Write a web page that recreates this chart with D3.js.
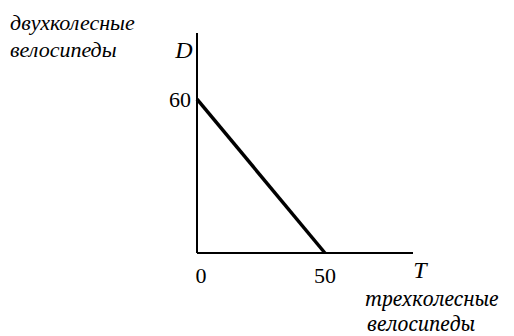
<!DOCTYPE html>
<html lang="ru">
<head>
<meta charset="utf-8">
<script src="https://cdn.jsdelivr.net/npm/d3@7"></script>
<style>
  body { margin: 0; background: #fff; }
</style>
</head>
<body>
<svg id="chart"></svg>
<script>
// budget line: two-wheel (D) vs three-wheel (T) bicycles
const lineT = [0, 50];
const lineD = [60, 0];
const xTicks = [0, 50];
const yTicks = [60];
const yLabel = ["двухколесные", "велосипеды"];
const xLabel = ["трехколесные", "велосипеды"];

let svgWidth = 514, svgHeight = 336;
let ox = 197, oy = 253;
let serif = "'Liberation Serif', 'Noto Serif', serif";

let x = d3.scaleLinear().domain([0, 84.4]).range([ox, 413]),
    y = d3.scaleLinear().domain([0, 85.8]).range([oy, 33]);

let svg = d3.select("#chart").attr("width", svgWidth).attr("height", svgHeight);

// axes as plain lines
svg.append("line")
    .attr("x1", x(0)).attr("y1", y(0))
    .attr("x2", x(0)).attr("y2", y.range()[1])
    .attr("stroke", "#000").attr("stroke-width", 2);
svg.append("line")
    .attr("x1", x(0)).attr("y1", y(0))
    .attr("x2", x.range()[1]).attr("y2", y(0))
    .attr("stroke", "#000").attr("stroke-width", 2);

// the budget line
let pts = lineT.map((t, i) => [t, lineD[i]]);
svg.append("path")
    .datum(pts)
    .attr("d", d3.line().x(d => x(d[0])).y(d => y(d[1])))
    .attr("fill", "none")
    .attr("stroke", "#000")
    .attr("stroke-width", 3.5);

// tick labels
svg.selectAll(".xt")
    .data(xTicks)
    .enter().append("text")
    .attr("x", d => x(d) + (d === 0 ? 4 : 0))
    .attr("y", 283)
    .attr("text-anchor", "middle")
    .attr("font-family", serif)
    .attr("font-size", "22px")
    .text(d => d);

svg.selectAll(".yt")
    .data(yTicks)
    .enter().append("text")
    .attr("x", x(0) - 6)
    .attr("y", d => y(d) + 8)
    .attr("text-anchor", "end")
    .attr("font-family", serif)
    .attr("font-size", "22px")
    .text(d => d);

// axis letters
svg.append("text").attr("x", 184).attr("y", 58)
    .attr("text-anchor", "middle").attr("font-family", serif)
    .attr("font-size", "24px").attr("font-style", "italic")
    .text("D");
svg.append("text").attr("x", 420).attr("y", 278)
    .attr("text-anchor", "middle").attr("font-family", serif)
    .attr("font-size", "24px").attr("font-style", "italic")
    .text("T");

// axis titles
svg.selectAll(".yl")
    .data(yLabel)
    .enter().append("text")
    .attr("x", 10)
    .attr("y", (d, i) => 30 + i * 27)
    .attr("font-family", serif)
    .attr("font-size", "22px")
    .attr("font-style", "italic")
    .text(d => d);

svg.selectAll(".xl")
    .data(xLabel)
    .enter().append("text")
    .attr("x", (d, i) => i === 0 ? 365 : 367)
    .attr("y", (d, i) => 306 + i * 25)
    .attr("font-family", "'Noto Serif', serif")
    .attr("font-size", "19px")
    .attr("font-style", "italic")
    .text(d => d);
</script>
</body>
</html>
